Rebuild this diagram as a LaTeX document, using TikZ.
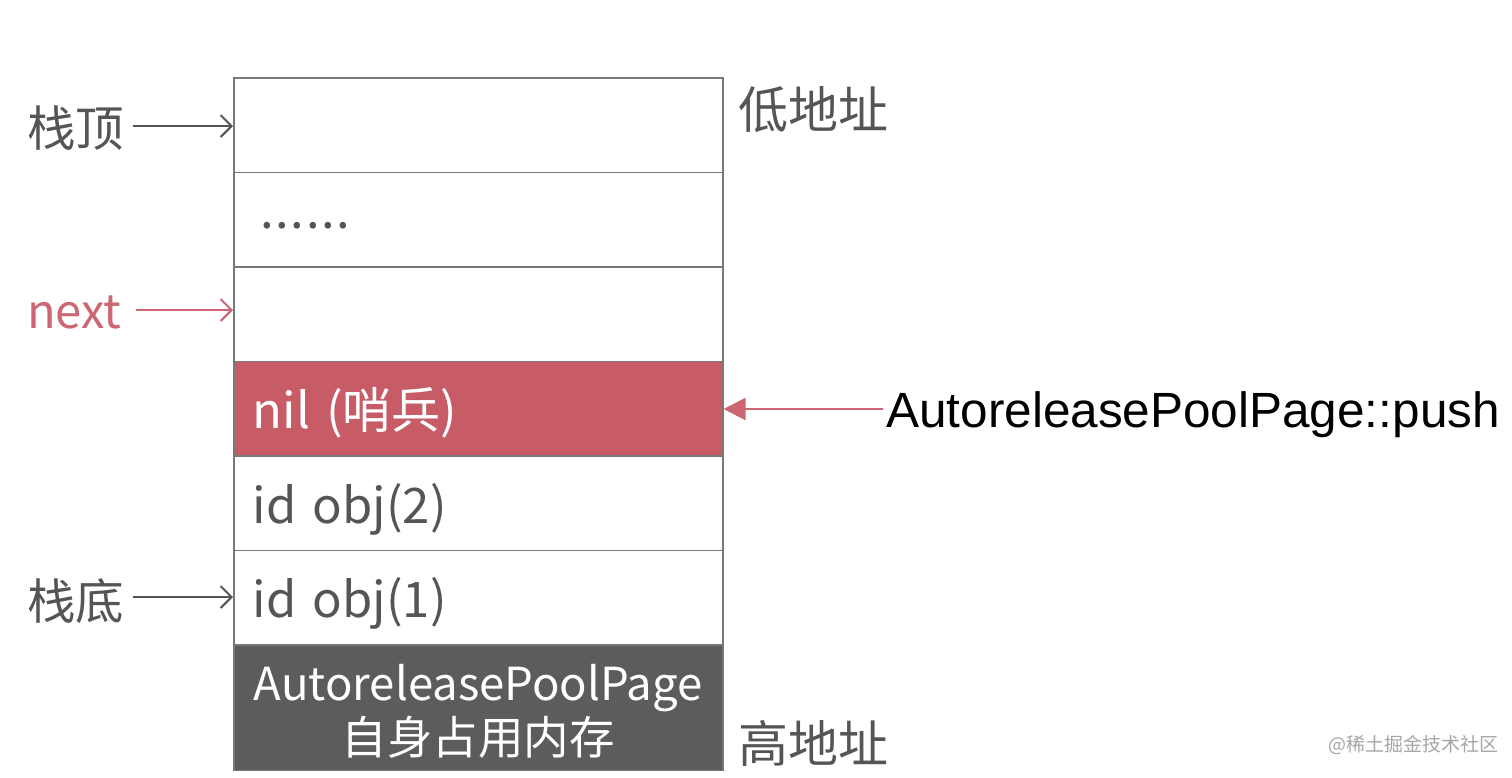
\documentclass[tikz,border=0pt]{standalone}
\usepackage{fontspec}
\setmainfont{Noto Sans CJK SC}
\newfontfamily\arialfont{Liberation Sans}
\usetikzlibrary{arrows.meta}
\definecolor{rowred}{RGB}{199,92,102}
\definecolor{rowdark}{RGB}{92,92,92}
\definecolor{edgegray}{RGB}{120,120,120}
\definecolor{labelgray}{RGB}{85,85,85}
\definecolor{pinkline}{RGB}{204,102,114}
\tikzset{
  row/.style={draw=edgegray, line width=1.5pt, minimum width=489pt, text width=451pt,
    inner xsep=19pt, inner ysep=0pt, align=left, anchor=north west,
    text height=40pt, text depth=0pt,
    font=\fontsize{49}{50}\selectfont, text=labelgray},
  sidelabel/.style={inner sep=0pt, font=\fontsize{48.5}{50}\selectfont, text=labelgray},
  grayarrow/.style={draw=labelgray, line width=1.6pt, -{Straight Barb[length=11pt,width=22pt,line width=2pt]}},
  pinkarrow/.style={draw=pinkline, line width=1.6pt, -{Straight Barb[length=11pt,width=22pt,line width=2pt]}},
  pusharrow/.style={draw=pinkline, line width=1.8pt, -{Triangle[length=22pt,width=22pt]}},
}
\begin{document}
\begin{tikzpicture}[x=1pt,y=-1pt]
\useasboundingbox (0,0) rectangle (1512,777);
\fill[white] (0,0) rectangle (1512,777);
% rows
\node[row, minimum height=94.5pt] (r1) at (233,77) {};
\node[row, minimum height=94.5pt, text height=18pt] (r2) at (233,171.5) {\hspace{8pt}\addfontfeature{LetterSpace=3}......};
\node[row, minimum height=94.5pt] (r3) at (233,266) {};
\node[row, minimum height=94.5pt, fill=rowred, text=white] (r4) at (233,360.5) {nil (哨兵)};
\node[row, minimum height=94.5pt] (r5) at (233,455) {id obj(2)};
\node[row, minimum height=94.5pt] (r6) at (233,549.5) {id obj(1)};
\node[row, minimum height=125.5pt, fill=rowdark] (r7) at (233,644) {};
\node[inner sep=0pt, align=center, text=white, font=\fontsize{45.5}{54}\selectfont, yshift=-4pt] (r7text) at (r7.center) {AutoreleasePoolPage\\自身占用内存};
% left labels
\node[sidelabel, anchor=west] (top) at (27,128) {栈顶};
\node[sidelabel, anchor=west, text=pinkline, font=\fontsize{47}{50}\selectfont] (nxt) at (27,312) {next};
\node[sidelabel, anchor=west] (bot) at (27,601) {栈底};
\draw[grayarrow] (top.east) ++(9,-2) coordinate (topstart) -- (r1.west |- topstart);
\draw[pinkarrow] (nxt.east) ++(14,-2) coordinate (nxtstart) -- (r3.west |- nxtstart);
\draw[grayarrow] (bot.east) ++(9,-4) coordinate (botstart) -- (r6.west |- botstart);
% right labels
\node[sidelabel, anchor=west, font=\fontsize{50}{50}\selectfont] (low) at (738,110) {低地址};
\node[sidelabel, anchor=west, font=\fontsize{50}{50}\selectfont] (high) at (738,743) {高地址};
\node[inner sep=0pt, anchor=west, font=\arialfont\fontsize{49.5}{55}\selectfont, text=black] (push) at (886,415) {AutoreleasePoolPage::push};
\draw[pusharrow] (push.west) ++(-3,-6) coordinate (pushstart) -- (r4.east |- pushstart);
% watermark
\node[inner sep=0pt, anchor=west, font=\fontsize{19}{22}\selectfont, text=gray!70] (wm) at (1328,745) {@稀土掘金技术社区};
\end{tikzpicture}
\end{document}
